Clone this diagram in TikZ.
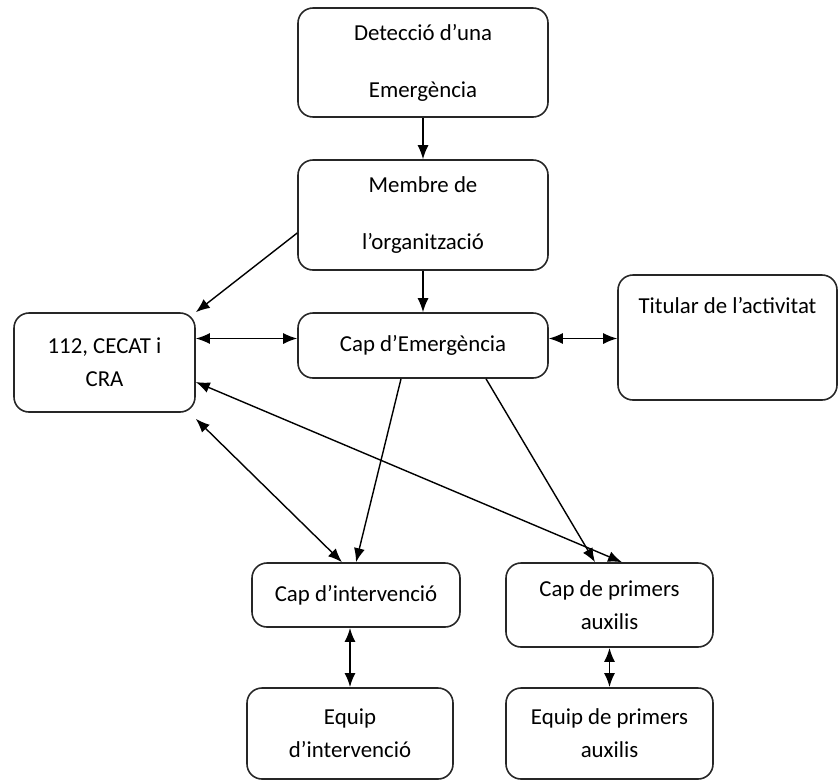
\documentclass[tikz,border=0pt]{standalone}
\usepackage{fontspec}
\setmainfont{Carlito}
\usetikzlibrary{arrows.meta}

\begin{document}
\begin{tikzpicture}[
orgbox/.style={
    draw=black!85,
    rectangle,
    rounded corners=0.3cm,
    line width=0.9pt,
    align=center,
    font=\fontsize{13}{18.7}\selectfont},
tallbox/.style={
    orgbox,
    font=\fontsize{13}{32.4}\selectfont},
link/.style={-{Latex[length=0.28cm,width=0.22cm]}, line width=0.8pt},
twoway/.style={{Latex[length=0.28cm,width=0.22cm]}-{Latex[length=0.28cm,width=0.22cm]}, line width=0.8pt}
]

\useasboundingbox (0,0) rectangle (16.78,-15.64);

\node (det) at (8.46 cm, -1.25 cm) [tallbox, minimum width=5cm, minimum height=2.18cm] {Detecció d’una\\Emergència};
\node (membre) at (8.46 cm, -4.30 cm) [tallbox, minimum width=5cm, minimum height=2.2cm] {Membre de\\l’organització};
\node (capem) at (8.46 cm, -6.91 cm) [orgbox, minimum width=5cm, minimum height=1.3cm] {Cap d’Emergència};

\node (titular) at (14.55 cm, -6.75 cm) [orgbox, minimum width=4.38cm, minimum height=2.5cm,
    label={[anchor=north, yshift=-0.33cm, font=\fontsize{13}{18.7}\selectfont]north:Titular de l’activitat}] {};
\node (cecat) at (2.09 cm, -7.25 cm) [orgbox, minimum width=3.62cm, minimum height=1.98cm] {112, CECAT i\\CRA};

\node (capint) at (7.12 cm, -11.90 cm) [orgbox, minimum width=4.16cm, minimum height=1.28cm] {Cap d’intervenció};
\node (capaux) at (12.19 cm, -12.10 cm) [orgbox, minimum width=4.14cm, minimum height=1.68cm] {Cap de primers\\auxilis};

\node (equipint) at (7.00 cm, -14.67 cm) [orgbox, minimum width=4.12cm, minimum height=1.82cm] {Equip\\d’intervenció};
\node (equipaux) at (12.19 cm, -14.67 cm) [orgbox, minimum width=4.14cm, minimum height=1.82cm] {Equip de primers\\auxilis};

% top chain
\draw[link] (det.south) -- (membre.north);
\draw[link] (membre.south) -- (capem.north);
\draw[link] ([yshift=-0.36cm]membre.west) -- (cecat.north east);

\draw[twoway] ([yshift=0.14cm]capem.west) -- ([yshift=0.14cm]capem.west -| cecat.east);
\draw[twoway] ([yshift=0.14cm]capem.east) -- ([yshift=0.14cm]capem.east -| titular.west);

% down to the teams
\draw[link] ([xshift=-0.44cm]capem.south) -- (capint.north);
\draw[link] ([xshift=1.26cm]capem.south) -- ([xshift=-0.29cm]capaux.north);
\draw[twoway] ([yshift=-0.39cm]cecat.east) -- ([xshift=0.25cm]capaux.north);
\draw[twoway] ([yshift=-0.12cm]cecat.south east) -- ([xshift=-0.28cm]capint.north);

\draw[twoway, line width=1.1pt] (equipint.north |- capint.south) -- (equipint.north);
\draw[twoway, line width=1.1pt] (capaux.south) -- (equipaux.north);

\end{tikzpicture}
\end{document}
